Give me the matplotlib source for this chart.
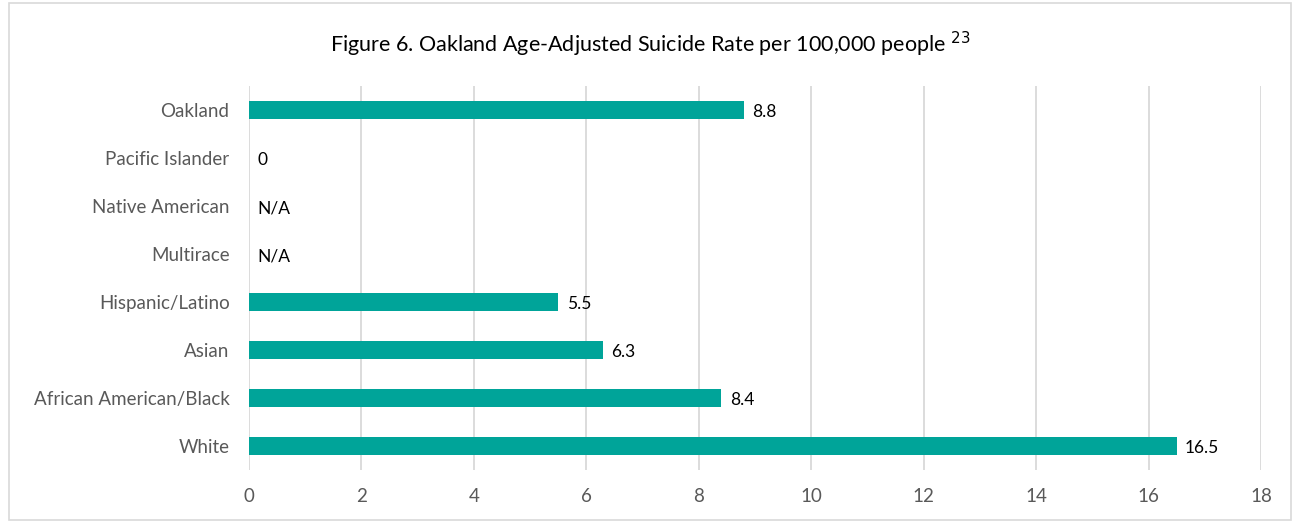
import matplotlib
matplotlib.use("Agg")
import matplotlib.pyplot as plt
from matplotlib.patches import Rectangle

categories = ["Oakland", "Pacific Islander", "Native American", "Multirace",
              "Hispanic/Latino", "Asian", "African American/Black", "White"]
values = [8.8, 0, None, None, 5.5, 6.3, 8.4, 16.5]
labels = ["8.8", "0", "N/A", "N/A", "5.5", "6.3", "8.4", "16.5"]
xticks = [0, 2, 4, 6, 8, 10, 12, 14, 16, 18]

plt.rcParams['font.family'] = ['Lato', 'DejaVu Sans']

fig = plt.figure(figsize=(13, 5.25), dpi=100)
ax = fig.add_axes([0.1915, 0.1048, 0.7785, 0.7314])

color = "#00A499"
ypos = list(range(len(categories)))
for y, v, lab in zip(ypos, values, labels):
    w = v if v is not None else 0
    if w > 0:
        ax.barh(y, w, height=0.36, color=color, zorder=3)
    ax.text(w + 0.15, y + 0.05, lab, va="center", ha="left", fontsize=12.5, color="#000000")

ax.set_ylim(len(categories) - 0.5, -0.5)
ax.set_xlim(0, 18)
ax.set_xticks(xticks)
ax.set_xticklabels([str(t) for t in xticks])
ax.set_yticks(ypos)
ax.set_yticklabels(categories)
ax.tick_params(axis="both", length=0, labelsize=13.5, colors="#595959")
ax.tick_params(axis="x", pad=13)
ax.tick_params(axis="y", pad=14)
ax.grid(axis="x", color="#D9D9D9", linewidth=1.3, zorder=0)
for s in ax.spines.values():
    s.set_visible(False)

fig.text(0.5, 0.915, "Figure 6. Oakland Age-Adjusted Suicide Rate per 100,000 people $^{23}$",
         ha="center", va="center", fontsize=15.5, color="#000000")

fig.patches.append(Rectangle((0.007, 0.01), 0.986, 0.985, transform=fig.transFigure,
                             fill=False, edgecolor="#D9D9D9", linewidth=1.2))

fig.savefig("out.png", dpi=100)
